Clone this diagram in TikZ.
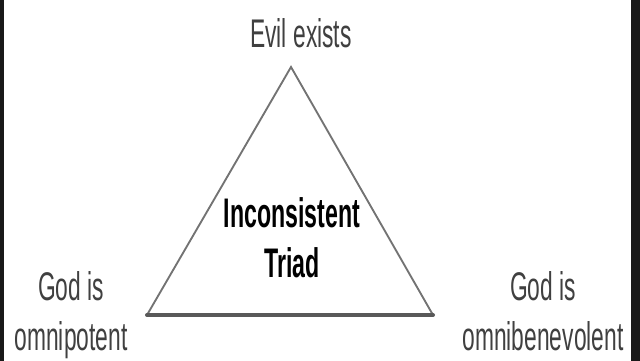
\documentclass[tikz,border=0pt]{standalone}
\usepackage{fontspec}
\newfontfamily\labelfont[FakeStretch=0.57]{Liberation Sans}
\newfontfamily\triadfont[FakeStretch=0.56]{Liberation Sans}
\usetikzlibrary{positioning}

\begin{document}
\begin{tikzpicture}[
    x=0.75pt, y=-0.75pt,
    claim/.style={align=center, inner sep=0pt, anchor=base, text=black!75, font=\labelfont\fontsize{30}{37.5}\selectfont},
    title/.style={align=center, inner sep=0pt, anchor=base, font=\triadfont\bfseries\fontsize{31}{37.5}\selectfont},
    side/.style={draw=black!55, line width=1.4pt, line cap=round}
]
\useasboundingbox (0,0) rectangle (640,361);
\fill[black!90] (0,0) rectangle (4,361);
\fill[black!90] (631,0) rectangle (640,361);

\coordinate (apex) at (291,67);
\coordinate (lcorner) at (147,315);
\coordinate (rcorner) at (433,315);

\draw[side] (lcorner) -- (apex) -- (rcorner);
\draw[side, draw=black!65, line width=3pt] (lcorner) -- (rcorner);

\node[claim] (evil) at (301,47) {Evil exists};
\node[claim] (omnipotent) at (71,350) {God is\\omnipotent};
\node[claim] (omnibenevolent) at (543,350) {God is\\omnibenevolent};
\node[title] (triad) at (292,277) {Inconsistent\\Triad};

\end{tikzpicture}
\end{document}
